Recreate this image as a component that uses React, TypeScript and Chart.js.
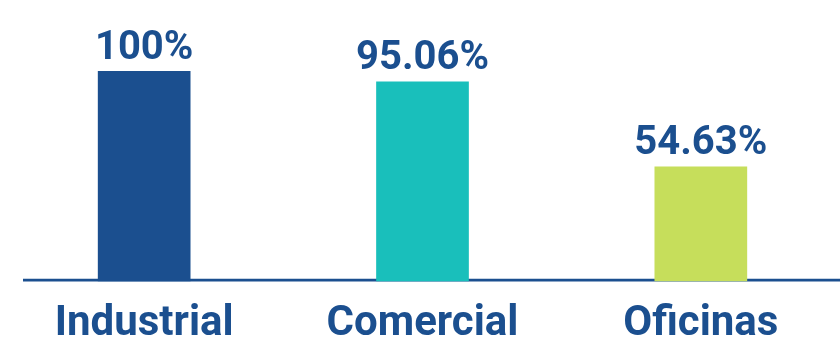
import React, { useEffect, useRef } from "react";
import { Chart, registerables } from "chart.js";

Chart.register(...registerables);

const categories = ["Industrial", "Comercial", "Oficinas"];
const values = [100, 95.06, 54.63];
const barColors = ["#1b4f8f", "#19bfbb", "#c6de5b"];
const textColor = "#1b4f8f";
const fontFamily = "Roboto, 'Noto Sans', sans-serif";

const valueLabelPlugin = {
  id: "valueLabels",
  beforeDatasetsDraw(chart: any) {
    const { ctx, chartArea, width } = chart;
    ctx.save();
    ctx.strokeStyle = textColor;
    ctx.lineWidth = 2.6;
    ctx.beginPath();
    ctx.moveTo(23, chartArea.bottom - 1.3);
    ctx.lineTo(width, chartArea.bottom - 1.3);
    ctx.stroke();
    ctx.restore();
  },
  afterDatasetsDraw(chart: any) {
    const { ctx } = chart;
    const meta = chart.getDatasetMeta(0);
    ctx.save();
    ctx.fillStyle = textColor;
    ctx.font = `bold 40px ${fontFamily}`;
    ctx.textAlign = "center";
    ctx.textBaseline = "alphabetic";
    meta.data.forEach((bar: any, i: number) => {
      ctx.fillText(`${values[i]}%`, bar.x, bar.y - 12);
    });
    ctx.restore();
  },
};

export default function App() {
  const ref = useRef<HTMLCanvasElement>(null);
  useEffect(() => {
    document.body.style.margin = "0";
    const chart = new Chart(ref.current!, {
      type: "bar",
      data: {
        labels: categories,
        datasets: [
          {
            data: values,
            backgroundColor: barColors,
            borderWidth: 0,
            categoryPercentage: 1,
            barPercentage: 0.333,
          },
        ],
      },
      options: {
        animation: false,
        responsive: false,
        maintainAspectRatio: false,
        layout: { padding: { top: 71, left: 5, right: 0, bottom: -25 } },
        plugins: { legend: { display: false }, tooltip: { enabled: false } },
        scales: {
          y: { display: false, min: 0, max: 100 },
          x: {
            grid: { display: false, drawTicks: false },
            border: { display: false },
            ticks: {
              color: textColor,
              padding: 17.6,
              font: { family: fontFamily, size: 42, weight: "bold", lineHeight: 1.2 },
            },
          },
        },
      },
      plugins: [valueLabelPlugin],
    });
    return () => chart.destroy();
  }, []);
  return (
    <div style={{ width: 840, height: 342 }}>
      <canvas ref={ref} width={840} height={342} />
    </div>
  );
}
